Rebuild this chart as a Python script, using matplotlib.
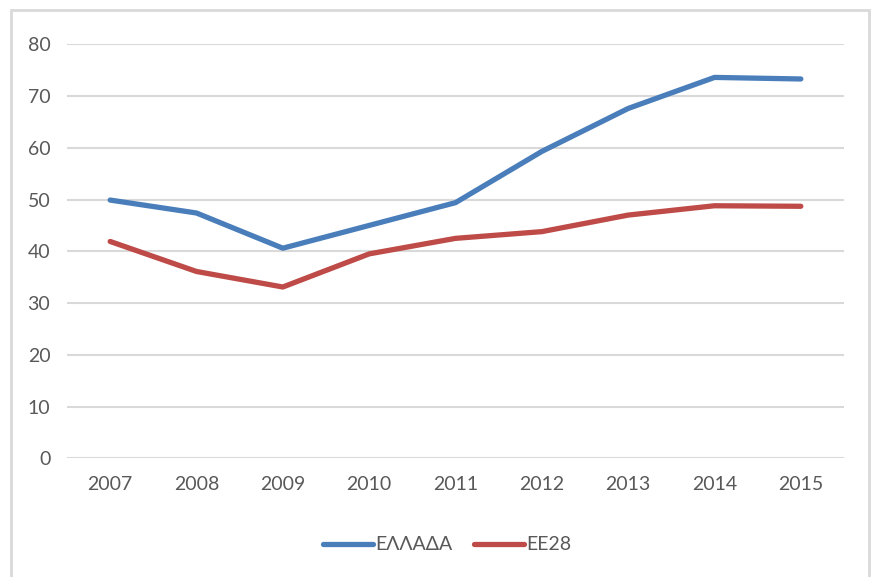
import matplotlib.pyplot as plt
from matplotlib.patches import Rectangle

plt.rcParams['font.family'] = ['Lato', 'DejaVu Sans']

years = ['2007', '2008', '2009', '2010', '2011', '2012', '2013', '2014', '2015']
greece = [49.9, 47.4, 40.6, 45.0, 49.4, 59.3, 67.6, 73.6, 73.3]
eu28 = [41.9, 36.1, 33.1, 39.5, 42.5, 43.8, 47.0, 48.8, 48.7]
yticks = [0, 10, 20, 30, 40, 50, 60, 70, 80]

text_col = '#595959'
grid_col = '#d9d9d9'

fig = plt.figure(figsize=(8.71, 5.77), dpi=100)
ax = fig.add_axes([67 / 871, 1 - 458.3 / 577, (844 - 67) / 871, (458.3 - 44.3) / 577])

# outer chart frame (cut at bottom of picture)
fig.patches.append(Rectangle((11 / 871, -0.05), (869 - 11) / 871, 1.05 - 10 / 577,
                             transform=fig.transFigure, fill=False,
                             edgecolor=grid_col, linewidth=2))

x = list(range(len(years)))
ax.plot(x, greece, color='#4a7ebb', linewidth=3.8, solid_capstyle='round',
        solid_joinstyle='round', label='ΕΛΛΑΔΑ', zorder=3)
ax.plot(x, eu28, color='#be4b48', linewidth=3.8, solid_capstyle='round',
        solid_joinstyle='round', label='ΕΕ28', zorder=3)

ax.set_xlim(-0.5, len(years) - 0.5)
ax.set_ylim(0, 80)
ax.set_yticks(yticks)
ax.set_xticks(x)
ax.set_xticklabels(years)
ax.grid(axis='y', color=grid_col, linewidth=1.5)
ax.set_axisbelow(True)
for s in ax.spines.values():
    s.set_visible(False)
ax.tick_params(length=0, labelsize=14, colors=text_col)
ax.tick_params(axis='y', pad=12)
ax.tick_params(axis='x', pad=13)

fig.legend(loc='center', bbox_to_anchor=(447 / 871, 1 - 545 / 577), ncol=2,
           frameon=False, fontsize=14, labelcolor=text_col,
           handlelength=2.6, handletextpad=0.1, columnspacing=1.1)

fig.savefig('out.png', dpi=100)
